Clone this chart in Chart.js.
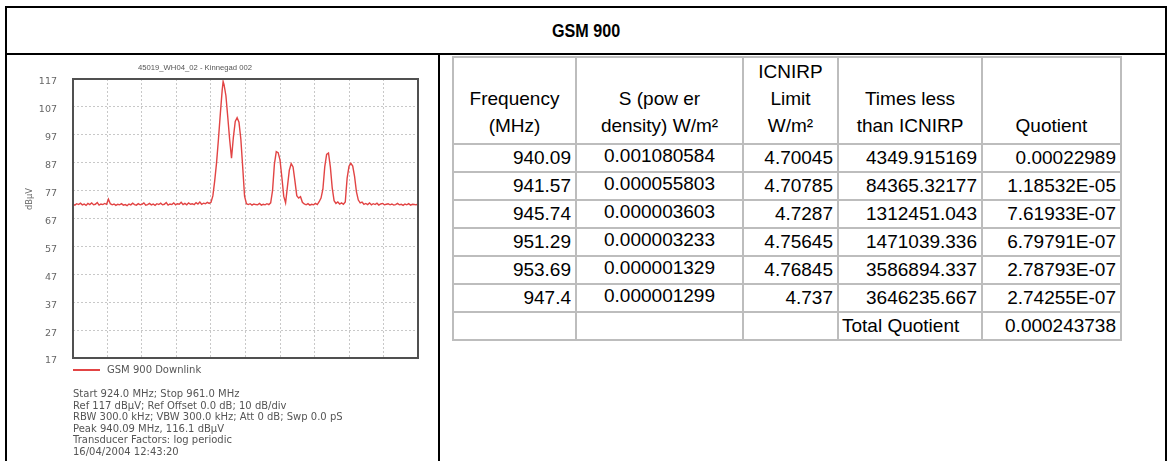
<!DOCTYPE html>
<html><head><meta charset="utf-8">
<script src="https://cdn.jsdelivr.net/npm/chart.js@4/dist/chart.umd.min.js"></script>
<style>
html,body{margin:0;padding:0;background:#fff;}
body{width:1171px;height:461px;position:relative;overflow:hidden;font-family:"Liberation Sans",Arial,sans-serif;}
.ln{position:absolute;background:#000;}
#title{position:absolute;left:7px;top:8px;width:1158px;height:45px;display:flex;align-items:center;justify-content:center;}
#title span{display:inline-block;font-weight:bold;font-size:19px;transform:scaleX(0.85);}
#chartWrap{position:absolute;left:7px;top:56px;width:430px;height:316px;}
#ctitle{position:absolute;left:95px;top:63px;width:200px;text-align:center;font-size:7.7px;line-height:10px;color:#555;white-space:nowrap;}
#ytitle{position:absolute;left:9px;top:193px;width:40px;text-align:center;font-family:"DejaVu Sans",sans-serif;font-size:8.3px;line-height:12px;color:#666;transform:rotate(-90deg);}
#legend{position:absolute;left:73px;top:363px;height:14px;font-family:"DejaVu Sans",sans-serif;font-size:10px;line-height:14px;color:#555;white-space:nowrap;}
#legend .sw{position:absolute;left:0;top:6px;width:27px;height:1.5px;}
#legend .tx{position:absolute;left:34px;top:0;}
#info{position:absolute;left:73px;top:388px;font-family:"DejaVu Sans",sans-serif;font-size:10px;line-height:11.6px;color:#555;white-space:nowrap;}
#tbl{position:absolute;left:452px;top:56px;border-collapse:collapse;table-layout:fixed;width:670px;font-size:19px;color:#000;}
#tbl td,#tbl th{border:2px solid #bdbdbd;padding:0 4px;font-weight:normal;white-space:nowrap;overflow:visible;}
#tbl th{height:80px;vertical-align:bottom;text-align:center;line-height:27px;padding-bottom:4px;}
#tbl td{height:26px;line-height:26px;text-align:right;}
#tbl td.s{text-align:center;vertical-align:top;line-height:22px;}
#tbl td.lt{text-align:left;padding-left:3px;}
</style></head>
<body>
<div class="ln" style="left:5px;top:6px;width:1162px;height:2px"></div>
<div class="ln" style="left:5px;top:53px;width:1162px;height:2px"></div>
<div class="ln" style="left:5px;top:6px;width:2px;height:455px"></div>
<div class="ln" style="left:1165px;top:6px;width:2px;height:455px"></div>
<div class="ln" style="left:438px;top:53px;width:2px;height:408px"></div>
<div id="title"><span>GSM 900</span></div>
<div id="chartWrap"><canvas id="c" width="430" height="316"></canvas></div>
<div id="ctitle"></div>
<div id="ytitle">dBµV</div>
<div id="legend"></div>
<div id="info"></div>
<table id="tbl">
<colgroup><col style="width:123px"><col style="width:167px"><col style="width:95px"><col style="width:144px"><col style="width:139px"></colgroup>
<thead><tr><th>Frequency<br>(MHz)</th><th>S (pow er<br>density) W/m²</th><th>ICNIRP<br>Limit<br>W/m²</th><th>Times less<br>than ICNIRP</th><th>Quotient</th></tr></thead>
<tbody id="tb"></tbody>
</table>
<script>
// ---- spectrum trace data ----
const freqMHz = [
924.0,924.2,924.4,924.6,924.8,925.0,925.2,925.4,925.6,925.8,
926.0,926.2,926.4,926.6,926.8,927.0,927.2,927.4,927.6,927.8,
928.0,928.2,928.4,928.6,928.8,929.0,929.2,929.4,929.6,929.8,
930.0,930.2,930.4,930.6,930.8,931.0,931.2,931.4,931.6,931.8,
932.0,932.2,932.4,932.6,932.8,933.0,933.2,933.4,933.6,933.8,
934.0,934.2,934.4,934.6,934.8,935.0,935.2,935.4,935.6,935.8,
936.0,936.2,936.4,936.6,936.8,937.0,937.2,937.4,937.6,937.8,
938.0,938.2,938.4,938.6,938.8,939.0,939.2,939.4,939.6,939.8,
940.0,940.1,940.2,940.4,940.6,940.8,941.0,941.2,941.4,941.6,
941.8,942.0,942.2,942.4,942.6,942.8,943.0,943.2,943.4,943.6,
943.8,944.0,944.2,944.4,944.6,944.8,945.0,945.2,945.4,945.6,
945.8,946.0,946.2,946.4,946.6,946.8,947.0,947.2,947.4,947.6,
947.8,948.0,948.2,948.4,948.6,948.8,949.0,949.2,949.4,949.6,
949.8,950.0,950.2,950.4,950.6,950.8,951.0,951.2,951.4,951.6,
951.8,952.0,952.2,952.4,952.6,952.8,953.0,953.2,953.4,953.6,
953.8,954.0,954.2,954.4,954.6,954.8,955.0,955.2,955.4,955.6,
955.8,956.0,956.2,956.4,956.6,956.8,957.0,957.2,957.4,957.6,
957.8,958.0,958.2,958.4,958.6,958.8,959.0,959.2,959.4,959.6,
959.8,960.0,960.2,960.4,960.6,960.8,961.0];
const levelDbuv = [
72.1,71.8,72.3,72.0,72.5,71.9,72.2,71.7,72.4,72.0,
72.6,71.9,72.1,72.7,71.8,72.2,72.0,72.4,72.1,73.9,
72.3,71.9,72.2,71.7,72.1,71.9,72.3,71.8,72.0,71.6,
72.2,71.9,72.5,72.0,71.8,72.3,71.9,72.1,72.6,71.8,
72.0,72.4,71.9,72.2,71.7,72.3,72.0,72.5,71.9,72.1,
72.7,71.8,72.2,72.0,72.6,71.9,72.3,72.1,72.8,72.0,
72.4,71.9,72.6,72.1,72.3,72.0,72.7,72.2,72.9,72.1,
72.5,72.3,72.8,72.4,72.8,75.1,80.6,87.1,95.5,104.5,
113.0,116.1,115.0,111.0,103.3,95.3,88.6,96.1,101.8,103.1,
101.5,95.5,85.4,75.0,72.3,72.0,72.3,71.8,72.2,72.0,
71.9,72.4,71.8,72.1,71.9,72.3,72.0,72.6,77.0,86.5,
91.0,90.6,88.0,81.8,75.0,72.6,78.5,84.3,86.7,85.5,
80.5,75.2,74.3,74.8,72.8,72.2,71.9,72.3,71.8,72.1,
71.9,72.4,72.0,73.0,74.3,77.5,85.5,90.0,90.5,85.5,
78.0,73.4,72.4,72.9,72.2,72.6,72.1,72.9,81.5,85.7,
86.8,85.8,82.0,76.5,73.6,72.6,72.9,72.1,72.4,72.0,
72.6,71.9,72.3,72.0,72.5,71.8,72.2,72.4,71.9,72.1,
72.3,71.9,72.2,71.8,72.0,72.4,71.9,72.1,71.7,72.2,
71.9,72.3,71.8,72.1,72.0,71.9,72.2];
const yTicks = [17,27,37,47,57,67,77,87,97,107,117];
const xGrid = [924,927.7,931.4,935.1,938.8,942.5,946.2,949.9,953.6,957.3,961];
const seriesLabel = 'GSM 900 Downlink';
const chartTitle = '45019_WH04_02 - Kinnegad 002';
const infoLines = [
 'Start 924.0 MHz; Stop 961.0 MHz',
 'Ref 117 dBµV; Ref Offset 0.0 dB; 10 dB/div',
 'RBW 300.0 kHz; VBW 300.0 kHz; Att 0 dB; Swp 0.0 pS',
 'Peak 940.09 MHz, 116.1 dBµV',
 'Transducer Factors: log periodic',
 '16/04/2004 12:43:20'];

// ---- table data ----
const rowFreq = ['940.09','941.57','945.74','951.29','953.69','947.4'];
const rowS = ['0.001080584','0.000055803','0.000003603','0.000003233','0.000001329','0.000001299'];
const rowLimit = ['4.70045','4.70785','4.7287','4.75645','4.76845','4.737'];
const rowTimes = ['4349.915169','84365.32177','1312451.043','1471039.336','3586894.337','3646235.667'];
const rowQuot = ['0.00022989','1.18532E-05','7.61933E-07','6.79791E-07','2.78793E-07','2.74255E-07'];
const totalLabel = 'Total Quotient';
const totalQuot = '0.000243738';

const traceColor = '#e24444';

document.getElementById('ctitle').textContent = chartTitle;
document.getElementById('info').innerHTML = infoLines.map(s => '<div>' + s + '</div>').join('');

const tb = document.getElementById('tb');
let html = '';
for (let i = 0; i < rowFreq.length; i++) {
  html += '<tr><td>' + rowFreq[i] + '</td><td class="s">' + rowS[i] + '</td><td>' + rowLimit[i] +
          '</td><td>' + rowTimes[i] + '</td><td>' + rowQuot[i] + '</td></tr>';
}
html += '<tr><td></td><td></td><td></td><td class="lt">' + totalLabel + '</td><td>' + totalQuot + '</td></tr>';
tb.innerHTML = html;

const framePlugin = {
  id: 'frame',
  afterDatasetsDraw(chart) {
    const {ctx, chartArea: a} = chart;
    ctx.save();
    ctx.strokeStyle = '#505050';
    ctx.lineWidth = 2;
    ctx.strokeRect(a.left, a.top, a.right - a.left, a.bottom - a.top);
    ctx.restore();
  }
};

const gridStyle = {color: '#c8c8c8', lineWidth: 1, drawTicks: false};

const chart = new Chart(document.getElementById('c'), {
  type: 'line',
  data: {
    datasets: [{
      label: seriesLabel,
      data: freqMHz.map((f, i) => ({x: f, y: levelDbuv[i]})),
      borderColor: traceColor,
      borderWidth: 1.4,
      pointRadius: 0,
      tension: 0,
      fill: false
    }]
  },
  options: {
    responsive: false,
    animation: false,
    devicePixelRatio: 1,
    layout: {padding: {top: 23, right: 19, bottom: 14, left: 0}},
    plugins: {legend: {display: false}, title: {display: false}, tooltip: {enabled: false}},
    scales: {
      x: {
        type: 'linear', min: 924, max: 961,
        afterBuildTicks: s => { s.ticks = xGrid.map(v => ({value: v})); },
        afterFit: s => { s.height = 0; s.paddingLeft = 0; s.paddingRight = 0; },
        ticks: {display: false},
        grid: gridStyle,
        border: {display: false, dash: [2, 2]}
      },
      y: {
        type: 'linear', min: 17, max: 117,
        afterBuildTicks: s => { s.ticks = yTicks.map(v => ({value: v})); },
        afterFit: s => { s.width = 66; s.paddingTop = 0; s.paddingBottom = 0; },
        ticks: {color: '#666', font: {family: 'DejaVu Sans', size: 9.5}, padding: 16, labelOffset: 3},
        grid: gridStyle,
        border: {display: false, dash: [2, 2]}
      }
    }
  },
  plugins: [framePlugin]
});

const ds = chart.data.datasets[0];
document.getElementById('legend').innerHTML =
  '<div class="sw" style="background:' + ds.borderColor + '"></div><div class="tx">' + ds.label + '</div>';
</script>
</body></html>
